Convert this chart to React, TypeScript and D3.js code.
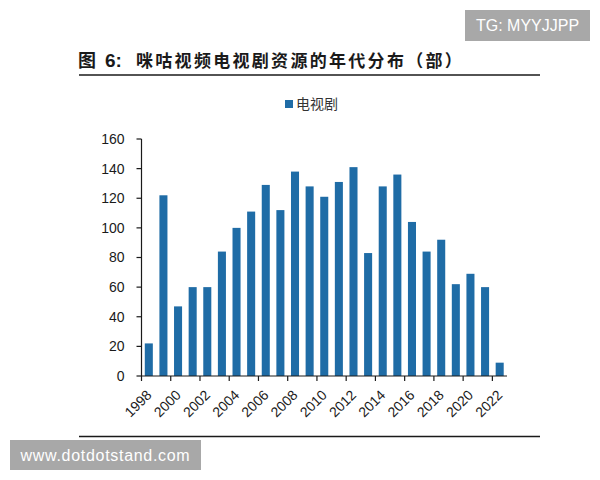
import * as d3 from "d3";

const WIDTH = 600;
const HEIGHT = 480;
const MARGIN = { top: 139, right: 93, bottom: 104, left: 141.5 };

const years = [
  1998, 1999, 2000, 2001, 2002, 2003, 2004, 2005, 2006, 2007, 2008, 2009, 2010,
  2011, 2012, 2013, 2014, 2015, 2016, 2017, 2018, 2019, 2020, 2021, 2022,
];
const counts = [
  22, 122, 47, 60, 60, 84, 100, 111, 129, 112, 138, 128, 121, 131, 141, 83, 128,
  136, 104, 84, 92, 62, 69, 60, 9,
];
const yTicks = [0, 20, 40, 60, 80, 100, 120, 140, 160];
const xLabels = [
  1998, 2000, 2002, 2004, 2006, 2008, 2010, 2012, 2014, 2016, 2018, 2020, 2022,
];

const titleHead = "图";
const titleNum = "6:";
const titleText = "咪咕视频电视剧资源的年代分布（部）";
const legendName = "电视剧";

const BAR = "#1f6ca6";
const INK = "#1a1a1a";
const CJK = '"Noto Sans CJK SC", sans-serif';
const LATIN = '"Liberation Sans", Arial, sans-serif';

export default function App() {
  const right = WIDTH - MARGIN.right;
  const bottom = HEIGHT - MARGIN.bottom;

  const xScale = d3
    .scaleBand<number>()
    .domain(years)
    .range([MARGIN.left, right])
    .paddingInner(0.45)
    .paddingOuter(0.225);
  const yScale = d3.scaleLinear().domain([0, 160]).range([bottom, MARGIN.top]);

  // ticks sit on the left edge of each labelled year's slot
  const slot = xScale.step();
  const slotLeft = (year: number) =>
    (xScale(year) ?? 0) + xScale.bandwidth() / 2 - slot / 2;

  return (
    <svg
      width={WIDTH}
      height={HEIGHT}
      style={{ position: "absolute", left: 0, top: 0, background: "#fff" }}
    >
      {/* title */}
      <text x={78} y={66.5} fontFamily={CJK} fontSize={18} fontWeight={700} fill={INK}>
        {titleHead}
      </text>
      <text x={105} y={66.5} fontFamily={LATIN} fontSize={19} fontWeight={700} fill={INK}>
        {titleNum}
      </text>
      <text
        x={136}
        y={66.5}
        fontFamily={CJK}
        fontSize={17}
        fontWeight={700}
        letterSpacing={2.3}
        fill={INK}
      >
        {titleText}
      </text>
      <line x1={79} x2={540} y1={75} y2={75} stroke={INK} strokeWidth={1.5} />

      {/* legend */}
      <rect x={285} y={100} width={8} height={8} fill={BAR} />
      <text x={296} y={109} fontFamily={CJK} fontSize={14} fill="#333">
        {legendName}
      </text>

      {/* bars */}
      {years.map((year, i) => (
        <rect
          key={year}
          x={xScale(year)}
          y={yScale(counts[i])}
          width={xScale.bandwidth()}
          height={bottom - yScale(counts[i])}
          fill={BAR}
        />
      ))}

      {/* y axis */}
      <line x1={MARGIN.left} x2={MARGIN.left} y1={MARGIN.top} y2={bottom} stroke={INK} strokeWidth={1.2} />
      {yTicks.map((t) => (
        <g key={t} transform={`translate(${MARGIN.left},${yScale(t)})`}>
          <line x1={-5} x2={0} stroke={INK} strokeWidth={1.2} />
          <text
            x={-17}
            dy="0.35em"
            textAnchor="end"
            fontFamily={LATIN}
            fontSize={14}
            fill={INK}
          >
            {t}
          </text>
        </g>
      ))}

      {/* x axis */}
      <line x1={MARGIN.left} x2={right} y1={bottom} y2={bottom} stroke={INK} strokeWidth={1.2} />
      {xLabels.map((year) => (
        <g key={year} transform={`translate(${slotLeft(year)},${bottom})`}>
          <line y1={0} y2={5} stroke={INK} strokeWidth={1.2} />
          <text
            transform="translate(4,13) rotate(-45)"
            textAnchor="end"
            dy="0.7em"
            fontFamily={LATIN}
            fontSize={14}
            fill={INK}
          >
            {year}
          </text>
        </g>
      ))}

      <line x1={79} x2={540} y1={436.5} y2={436.5} stroke={INK} strokeWidth={1.3} />

      {/* watermarks */}
      <rect x={465} y={10} width={125} height={31} fill="#a8a8a8" />
      <text x={527.5} y={31} textAnchor="middle" fontFamily={LATIN} fontSize={16} fill="#fff">
        TG: MYYJJPP
      </text>
      <rect x={10} y={440} width={191} height={30} fill="#a8a8a8" />
      <text x={105.5} y={461} textAnchor="middle" fontFamily={LATIN} fontSize={16} letterSpacing={0.7} fill="#fff">
        www.dotdotstand.com
      </text>
    </svg>
  );
}
